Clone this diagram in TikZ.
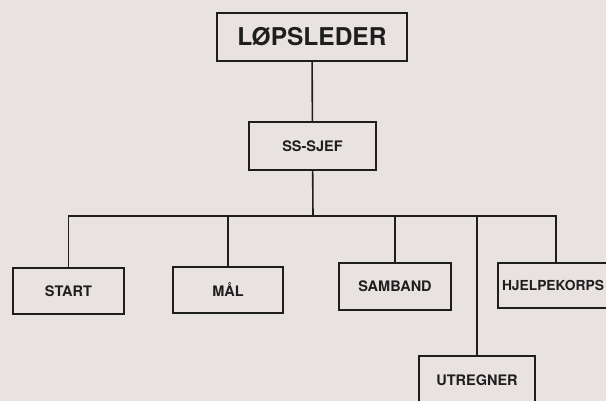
\documentclass[tikz,border=0pt]{standalone}
\usepackage{fontspec}
\setmainfont{TeX Gyre Heros}
\definecolor{paper}{RGB}{232,226,225}
\definecolor{ink}{RGB}{30,30,30}
\begin{document}
\begin{tikzpicture}[x=1pt,y=-1pt,
  box/.style={draw=ink,line width=1.6pt,fill=paper,inner sep=0pt,text=ink,font=\fontsize{14.5}{16}\selectfont\bfseries},
  link/.style={draw=ink,line width=1.6pt}]
\fill[paper] (0,0) rectangle (606,401);
\useasboundingbox (0,0) rectangle (606,401);
\begin{scope}
\clip (0,0) rectangle (606,401);
\node[box,minimum width=190pt,minimum height=48pt,font=\fontsize{24.5}{28}\selectfont\bfseries] (lop) at (312,37) {LØPSLEDER};
\node[box,minimum width=127pt,minimum height=48pt] (ss) at (312.5,146) {SS-SJEF};
\coordinate (j) at (313,216);
\node[box,minimum width=111pt,minimum height=46pt] (start) at (68.5,291) {START};
\node[box,minimum width=110pt,minimum height=46pt] (mal) at (228,290) {MÅL};
\node[box,minimum width=112pt,minimum height=47pt] (samb) at (395,286.5) {SAMBAND};
\node[box,minimum width=116pt,minimum height=45pt,text width=108pt,align=left,font=\fontsize{13.8}{16}\selectfont\bfseries] (hj) at (556,285.5) {HJELPEKORPS};
\node[box,minimum width=116pt,minimum height=48pt] (utr) at (477,380) {UTREGNER};
\draw[link] (lop) -- (ss);
\draw[link] (ss) -- (j);
\draw[link] (start.north) |- (j);
\draw[link] (mal.north) |- (j);
\draw[link] (samb.north) |- (j);
\draw[link] (utr.north) |- (j);
\draw[link] (hj.north) |- (j);
\end{scope}
\end{tikzpicture}
\end{document}
